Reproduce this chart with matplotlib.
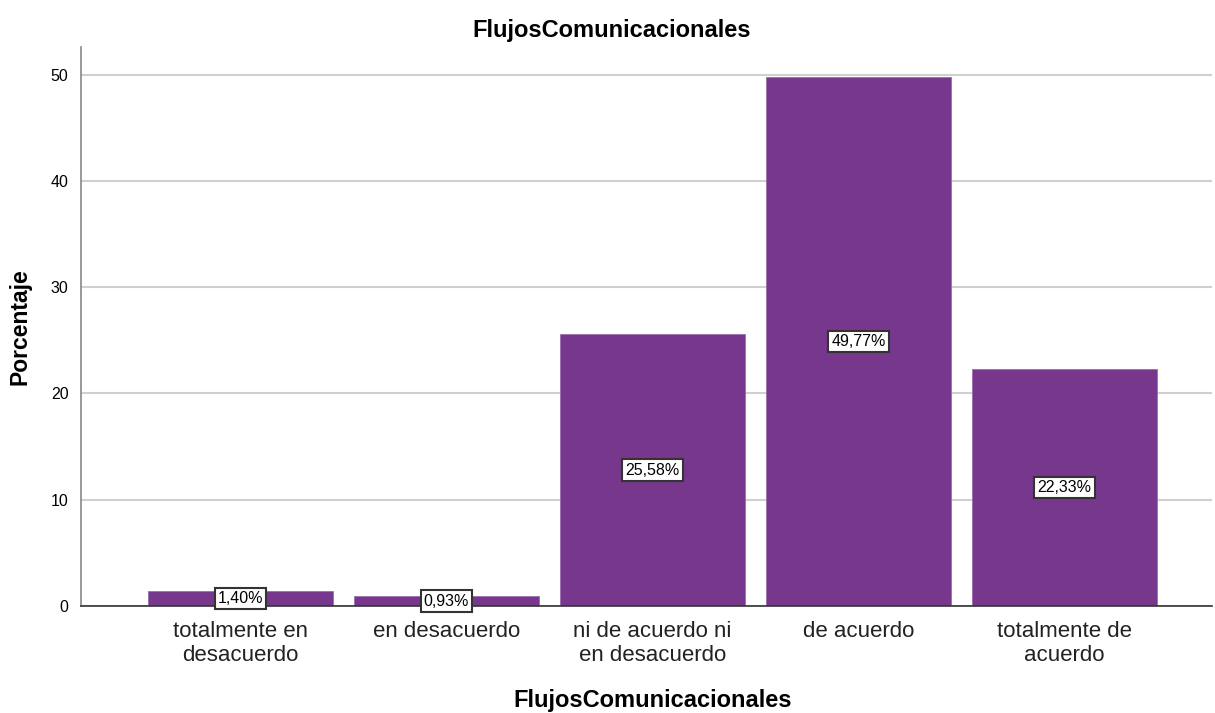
import matplotlib
matplotlib.use("Agg")
import matplotlib.pyplot as plt
import numpy as np

categories = ["totalmente en\ndesacuerdo", "en desacuerdo", "ni de acuerdo ni\nen desacuerdo", "de acuerdo", "totalmente de\nacuerdo"]
values = [1.40, 0.93, 25.58, 49.77, 22.33]
labels = ["1,40%", "0,93%", "25,58%", "49,77%", "22,33%"]
yticks = [0, 10, 20, 30, 40, 50]

plt.rcParams['font.family'] = ['Liberation Sans', 'DejaVu Sans']
fig = plt.figure(figsize=(12.15, 7.13), dpi=100)
ax = fig.add_axes([81/1215, 107/713, (1212-81)/1215, (606-47)/713])

x = np.arange(len(categories))
ax.set_axisbelow(True)
ax.yaxis.grid(True, color='#d0d0d0', linewidth=1.5)
bars = ax.bar(x, values, width=0.895, color='#77378c', edgecolor='#9c6cb0', linewidth=0.6, zorder=2)
for xi, v, lab in zip(x, values, labels):
    ax.text(xi, v/2, lab, ha='center', va='center', fontsize=11.5, zorder=3,
            bbox=dict(boxstyle='square,pad=0.2', facecolor='white', edgecolor='#333333', linewidth=1.5))

ax.set_xlim(-0.774, 4.716)
ax.set_ylim(0, 52.6)
ax.set_yticks(yticks)
ax.set_yticklabels([str(t) for t in yticks], fontsize=11.5)
ax.set_xticks(x)
ax.set_xticklabels(categories, fontsize=16, color='#222222', linespacing=1.15)
ax.tick_params(axis='x', length=0, pad=11)
ax.tick_params(axis='y', length=0, pad=9)
for s in ['top', 'right']:
    ax.spines[s].set_visible(False)
ax.spines['left'].set_color('#888888')
ax.spines['bottom'].set_color('#333333')
ax.spines['left'].set_linewidth(1.2)
ax.spines['bottom'].set_linewidth(1.2)

fig.text(612/1215, 1 - 30/713, "FlujosComunicacionales", fontsize=17, fontweight='bold', ha='center', va='center')
fig.text(653/1215, 1 - 700/713, "FlujosComunicacionales", fontsize=17, fontweight='bold', ha='center', va='center')
ax.set_ylabel("Porcentaje", fontsize=16.5, fontweight='bold', labelpad=14)

fig.savefig("out.png", dpi=100)
